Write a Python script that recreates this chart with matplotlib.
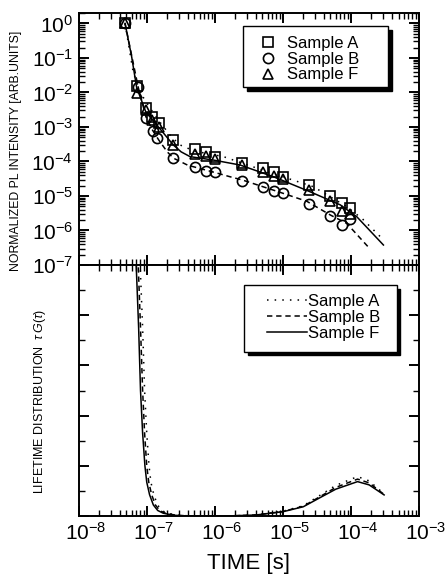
import matplotlib
matplotlib.use('Agg')
import matplotlib.pyplot as plt
import matplotlib.transforms as mtransforms
from matplotlib.patches import Rectangle
from matplotlib.ticker import LogLocator, MultipleLocator, NullFormatter

plt.rcParams['font.family'] = ['Liberation Sans', 'DejaVu Sans']
plt.rcParams['mathtext.fontset'] = 'custom'
plt.rcParams['mathtext.rm'] = 'Liberation Sans'
plt.rcParams['mathtext.it'] = 'Liberation Sans:italic'
plt.rcParams['mathtext.bf'] = 'Liberation Sans:bold'

# measured PL decay (symbols)
t_a = [4.8e-8, 7.1e-8, 9.7e-8, 1.19e-7, 1.53e-7, 2.46e-7, 5.1e-7, 7.4e-7, 1.01e-6,
       2.55e-6, 5.1e-6, 7.4e-6, 1.0e-5, 2.46e-5, 4.97e-5, 7.4e-5, 9.8e-5]
pl_a = [1.0, 1.5e-2, 3.5e-3, 2.0e-3, 1.33e-3, 4.2e-4, 2.3e-4, 1.92e-4, 1.38e-4,
        9.2e-5, 6.4e-5, 5.1e-5, 3.6e-5, 2.08e-5, 1.0e-5, 6.4e-6, 4.4e-6]
t_b = [4.8e-8, 7.5e-8, 9.7e-8, 1.22e-7, 1.43e-7, 2.46e-7, 5.1e-7, 7.4e-7, 1.01e-6,
       2.55e-6, 5.1e-6, 7.4e-6, 1.0e-5, 2.46e-5, 4.97e-5, 7.4e-5, 9.8e-5]
pl_b = [1.0, 1.4e-2, 1.86e-3, 7.7e-4, 4.9e-4, 1.24e-4, 6.8e-5, 5.4e-5, 4.9e-5,
        2.8e-5, 1.79e-5, 1.43e-5, 1.2e-5, 5.9e-6, 2.6e-6, 1.44e-6, 2.1e-6]
t_f = t_a
pl_f = [1.0, 9.5e-3, 3.0e-3, 1.6e-3, 1.0e-3, 3.0e-4, 1.6e-4, 1.4e-4, 1.15e-4,
        7.8e-5, 5.0e-5, 3.9e-5, 3.1e-5, 1.5e-5, 7.0e-6, 3.75e-6, 3.0e-6]

# fitted decay curves
fit_t_a = [4.8e-8, 6.3e-8, 8.0e-8, 1.12e-7, 1.6e-7, 2.3e-7, 3.1e-7, 5.0e-7, 1.34e-6,
           5.8e-6, 2.8e-5, 8.7e-5, 1.5e-4, 2.86e-4]
fit_a = [1.0, 4.0e-2, 1.0e-2, 3.5e-3, 1.3e-3, 5.2e-4, 3.0e-4, 2.0e-4, 1.38e-4,
         5.1e-5, 1.86e-5, 4.9e-6, 2.1e-6, 5.9e-7]
fit_t_b = [4.8e-8, 7.5e-8, 9.7e-8, 1.22e-7, 1.5e-7, 2.0e-7, 2.46e-7, 4.0e-7, 1.0e-6,
           1.68e-6, 2.55e-6, 1.0e-5, 2.25e-5, 5.0e-5, 8.7e-5, 1.87e-4]
fit_b = [1.0, 1.4e-2, 2.0e-3, 8.0e-4, 4.2e-4, 1.9e-4, 1.25e-4, 7.8e-5, 4.8e-5,
         3.6e-5, 2.9e-5, 1.2e-5, 7.0e-6, 2.8e-6, 1.6e-6, 3.05e-7]
fit_t_f = [4.8e-8, 6.0e-8, 7.1e-8, 9.7e-8, 1.53e-7, 2.46e-7, 3.2e-7, 4.33e-7, 9.5e-7,
           2.35e-6, 7.3e-6, 2.5e-5, 7.0e-5, 1.22e-4, 3.0e-4]
fit_f = [1.0, 1.09e-1, 1.4e-2, 2.7e-3, 9.3e-4, 3.0e-4, 1.9e-4, 1.38e-4, 1.1e-4,
         7.9e-5, 3.6e-5, 1.33e-5, 5.5e-6, 2.5e-6, 3.8e-7]

# lifetime distributions tau*G(tau)
tau_a = [7.4e-8, 8.0e-8, 8.7e-8, 9.3e-8, 1.0e-7, 1.08e-7, 1.15e-7, 1.27e-7, 1.44e-7, 1.67e-7,
         2.0e-7, 2.9e-7, 4.6e-7, 1.5e-6, 4e-6, 1e-5, 2e-5, 3.4e-5, 6e-5, 1.25e-4, 1.85e-4, 3.07e-4]
g_a = [11.0, 10.0, 7.5, 5.0, 3.3, 2.0, 1.35, 0.85, 0.44, 0.22,
       0.11, 0.03, 0.0, 0.0, 0.04, 0.19, 0.41, 0.80, 1.22, 1.57, 1.40, 0.88]
tau_b = [7.0e-8, 7.5e-8, 8.1e-8, 8.7e-8, 9.3e-8, 1.0e-7, 1.07e-7, 1.18e-7, 1.34e-7, 1.55e-7,
         1.87e-7, 2.7e-7, 4.3e-7, 1.5e-6, 4e-6, 1e-5, 2e-5, 3.4e-5, 6e-5, 1.25e-4, 1.85e-4, 3.07e-4]
g_b = [11.0, 10.0, 7.5, 5.0, 3.3, 2.0, 1.35, 0.85, 0.44, 0.22,
       0.11, 0.03, 0.0, 0.0, 0.04, 0.18, 0.39, 0.75, 1.14, 1.47, 1.32, 0.86]
tau_f = [6.6e-8, 7.0e-8, 7.6e-8, 8.1e-8, 8.7e-8, 9.4e-8, 1.0e-7, 1.1e-7, 1.25e-7, 1.45e-7,
         1.75e-7, 2.5e-7, 4e-7, 1.5e-6, 4e-6, 1e-5, 2e-5, 3.4e-5, 6e-5, 1.25e-4, 1.85e-4, 3.07e-4]
g_f = [11.0, 10.0, 7.5, 5.0, 3.3, 2.0, 1.35, 0.85, 0.44, 0.22,
       0.11, 0.03, 0.0, 0.0, 0.04, 0.17, 0.37, 0.71, 1.07, 1.37, 1.24, 0.84]

labels = ['Sample A', 'Sample B', 'Sample F']

fig = plt.figure(figsize=(4.45, 5.79), dpi=100)
ax1 = fig.add_axes([0.1768, 0.5423, 0.7648, 0.4352])
ax2 = fig.add_axes([0.1768, 0.1088, 0.7648, 0.4335], sharex=ax1)

lw = 1.1
dotted = (0, (1, 4))
dashed = (0, (3.5, 2.5))


def legend_box(ax, x0, y0, x1, y1):
    # white box with a solid black drop shadow, in axes fractions
    shift = mtransforms.ScaledTranslation(3.5 / 100, -3.5 / 100, fig.dpi_scale_trans)
    ax.add_patch(Rectangle((x0, y0), x1 - x0, y1 - y0, transform=ax.transAxes + shift,
                           facecolor='black', edgecolor='black', zorder=4.4))
    ax.add_patch(Rectangle((x0, y0), x1 - x0, y1 - y0, transform=ax.transAxes,
                           facecolor='white', edgecolor='black', lw=1.0, zorder=4.5))


# top panel: PL decay
ax1.plot(fit_t_a, fit_a, color='black', lw=lw, linestyle=dotted)
ax1.plot(fit_t_b, fit_b, color='black', lw=lw, linestyle=dashed)
ax1.plot(fit_t_f, fit_f, color='black', lw=lw)
ms = 7.3
ax1.plot(t_a, pl_a, 's', ms=ms, mfc='none', mec='black', mew=1.2, label=labels[0])
ax1.plot(t_b, pl_b, 'o', ms=ms, mfc='none', mec='black', mew=1.2, label=labels[1])
ax1.plot(t_f, pl_f, '^', ms=ms - 0.5, mfc='none', mec='black', mew=1.2, label=labels[2])

ax1.set_xscale('log')
ax1.set_yscale('log')
ax1.set_xlim(1e-8, 1e-3)
ax1.set_ylim(1e-7, 2.0)
ax1.yaxis.set_major_locator(LogLocator(base=10, numticks=20))
ax1.yaxis.set_minor_locator(LogLocator(base=10, subs=range(2, 10), numticks=20))
ax1.yaxis.set_minor_formatter(NullFormatter())
ax1.tick_params(labelbottom=False)

legend_box(ax1, 0.483, 0.706, 0.909, 0.948)
leg1 = ax1.legend(loc='center left', bbox_to_anchor=(0.532, 0.8175), borderaxespad=0,
                  fontsize=12, frameon=False, handlelength=1.0,
                  handletextpad=0.64, labelspacing=0.05, borderpad=0)
leg1.set_zorder(5)

# bottom panel: lifetime distribution
ax2.plot(tau_a, g_a, color='black', lw=lw, linestyle=dotted, label=labels[0])
ax2.plot(tau_b, g_b, color='black', lw=lw, linestyle=dashed, label=labels[1])
ax2.plot(tau_f, g_f, color='black', lw=lw, label=labels[2])
ax2.set_ylim(0, 10)
ax2.yaxis.set_major_locator(MultipleLocator(2))
ax2.yaxis.set_minor_locator(MultipleLocator(1))
ax2.tick_params(axis='y', which='both', labelleft=False)
ax2.xaxis.set_major_locator(LogLocator(base=10, numticks=10))
ax2.xaxis.set_minor_locator(LogLocator(base=10, subs=range(2, 10), numticks=10))
ax2.xaxis.set_minor_formatter(NullFormatter())

legend_box(ax2, 0.486, 0.655, 0.934, 0.920)
leg2 = ax2.legend(loc='center left', bbox_to_anchor=(0.553, 0.792), borderaxespad=0,
                  fontsize=12, frameon=False, handlelength=2.38,
                  handletextpad=0.08, labelspacing=0.05, borderpad=0)
leg2.set_zorder(5)

for ax in (ax1, ax2):
    for sp in ax.spines.values():
        sp.set_linewidth(1.4)
    ax.tick_params(which='both', direction='in', top=True, right=True,
                   labelsize=15, pad=4)
    ax.tick_params(which='major', length=7, width=1.4)
    ax.tick_params(which='minor', length=4, width=1.0)

# shift x tick labels a bit to the right as in the original
offset = mtransforms.ScaledTranslation(7 / 100, 0, fig.dpi_scale_trans)
for lab in ax2.get_xticklabels():
    lab.set_transform(lab.get_transform() + offset)

ax2.set_xlabel('TIME [s]', fontsize=16, labelpad=7)
fig.text(16 / 445, 1 - 151 / 579, 'NORMALIZED PL INTENSITY [ARB.UNITS]', rotation=90,
         ha='center', va='center', fontsize=8.8)
fig.text(40 / 445, 1 - 401 / 579, r'LIFETIME DISTRIBUTION  $\tau\,G(\tau)$', rotation=90,
         ha='center', va='center', fontsize=9)

fig.savefig('out.png', dpi=100)
